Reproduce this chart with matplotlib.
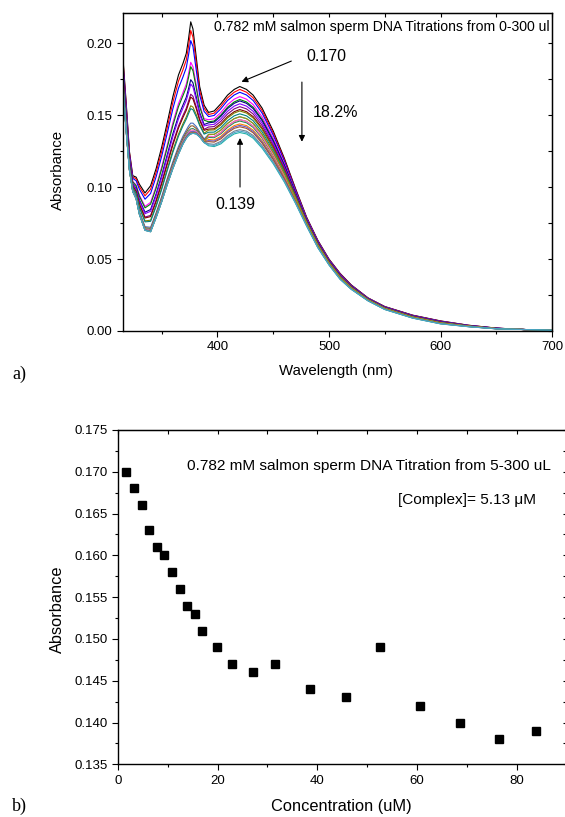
import numpy as np
import matplotlib
matplotlib.use('Agg')
import matplotlib.pyplot as plt
from matplotlib.ticker import MultipleLocator

plt.rcParams['font.family'] = ['Liberation Sans', 'DejaVu Sans']

# --- a) UV-vis spectra during titration ---
wavelength = [315, 318, 321, 324, 327, 330, 335, 340, 345, 350, 355, 360, 365, 369,
              372, 374, 376, 378, 381, 384, 388, 392, 397, 403, 409, 415, 420, 426,
              432, 440, 450, 460, 470, 480, 490, 500, 510, 520, 535, 550, 575, 600,
              625, 650, 675, 700]
# first spectrum (no DNA)
abs_first = [0.192, 0.160, 0.125, 0.108, 0.107, 0.102, 0.096, 0.101, 0.113, 0.128,
             0.145, 0.163, 0.178, 0.186, 0.193, 0.203, 0.215, 0.210, 0.190, 0.170,
             0.157, 0.152, 0.153, 0.158, 0.164, 0.168, 0.170, 0.168, 0.164, 0.155,
             0.139, 0.120, 0.099, 0.079, 0.063, 0.050, 0.040, 0.032, 0.023, 0.017,
             0.011, 0.007, 0.004, 0.002, 0.001, 0.0005]
# last spectrum (300 ul DNA)
abs_last = [0.172, 0.140, 0.112, 0.097, 0.092, 0.081, 0.070, 0.069, 0.079, 0.090,
            0.102, 0.113, 0.123, 0.130, 0.134, 0.136, 0.137, 0.1375, 0.137, 0.135,
            0.131, 0.1295, 0.129, 0.131, 0.135, 0.138, 0.139, 0.138, 0.135, 0.128,
            0.117, 0.104, 0.089, 0.073, 0.058, 0.046, 0.036, 0.029, 0.021, 0.015,
            0.009, 0.005, 0.003, 0.0015, 0.001, 0.0005]
# band maxima read for every spectrum (376 nm and 420 nm)
peak_376 = [0.215, 0.209, 0.202, 0.187, 0.184, 0.175, 0.172, 0.165, 0.163, 0.157, 0.155,
            0.145, 0.143, 0.141, 0.140, 0.139, 0.139, 0.138, 0.138, 0.1375, 0.1375, 0.1375]
peak_420 = [0.170, 0.168, 0.166, 0.163, 0.161, 0.160, 0.158, 0.156, 0.154, 0.153, 0.151,
            0.149, 0.147, 0.146, 0.147, 0.144, 0.143, 0.149, 0.142, 0.140, 0.138, 0.139]
curve_colors = ['#000000', '#ff0000', '#0000ff', '#ff00ff', '#008000', '#000080',
                '#8000ff', '#800080', '#800000', '#808000', '#008080', '#4a6fbf',
                '#8b5a2b', '#2e8b57', '#ff66cc', '#ff8000', '#6a5acd', '#9a9a00',
                '#a0522d', '#708090', '#20b2aa', '#4fa3c7']

# --- b) absorbance at 420 nm vs DNA concentration ---
conc = [1.66, 3.26, 4.8, 6.3, 7.8, 9.3, 10.9, 12.4, 13.9, 15.4, 16.9, 19.9, 22.8,
        27.2, 31.6, 38.6, 45.7, 52.5, 60.6, 68.5, 76.3, 83.7]
absorb = peak_420

fig = plt.figure(figsize=(5.65, 8.17), dpi=100)

wl = np.array(wavelength)
a_first = np.array(abs_first)
a_last = np.array(abs_last)
p376 = np.array(peak_376)
p420 = np.array(peak_420)
w_uv = (p376 - p376[-1]) / (p376[0] - p376[-1])
w_vis = (p420 - p420[-1]) / (p420[0] - p420[-1])

ax1 = fig.add_axes([0.2172, 0.5949, 0.7598, 0.3886])
for i in range(len(p420)):
    w = np.where(wl <= 390, w_uv[i], w_vis[i])
    ax1.plot(wl, a_last + w * (a_first - a_last), color=curve_colors[i], lw=0.8)

ax1.set_xlim(315, 700)
ax1.set_ylim(0, 0.2208)
ax1.xaxis.set_major_locator(MultipleLocator(100))
ax1.xaxis.set_minor_locator(MultipleLocator(50))
ax1.yaxis.set_major_locator(MultipleLocator(0.05))
ax1.yaxis.set_minor_locator(MultipleLocator(0.025))
ax1.yaxis.set_major_formatter(plt.FormatStrFormatter('%.2f'))

ax1.text(397, 0.2115, '0.782 mM salmon sperm DNA Titrations from 0-300 ul',
         ha='left', va='center', fontsize=10.1)
ax1.annotate('', xy=(421.5, 0.1733), xytext=(466.2, 0.1877),
             arrowprops=dict(arrowstyle='-|>', color='k', lw=0.8,
                             mutation_scale=9, shrinkA=0, shrinkB=0))
ax1.text(497.8, 0.1912, '0.170', ha='center', va='center', fontsize=11.5)
ax1.annotate('', xy=(475.7, 0.1316), xytext=(475.7, 0.1731),
             arrowprops=dict(arrowstyle='-|>', color='k', lw=0.8,
                             mutation_scale=9, shrinkA=0, shrinkB=0))
ax1.text(485.6, 0.1518, '18.2%', ha='left', va='center', fontsize=11.5)
ax1.annotate('', xy=(420.2, 0.1342), xytext=(420.2, 0.1001),
             arrowprops=dict(arrowstyle='-|>', color='k', lw=0.8,
                             mutation_scale=9, shrinkA=0, shrinkB=0))
ax1.text(416.1, 0.0883, '0.139', ha='center', va='center', fontsize=11.5)

ax2 = fig.add_axes([0.2083, 0.0645, 0.7952, 0.4092])
ax2.plot(conc, absorb, 's', color='black', ms=5.5)
ax2.set_xlim(0, 90)
ax2.set_ylim(0.135, 0.175)
ax2.xaxis.set_major_locator(MultipleLocator(20))
ax2.xaxis.set_minor_locator(MultipleLocator(10))
ax2.yaxis.set_major_locator(MultipleLocator(0.005))
ax2.yaxis.set_minor_locator(MultipleLocator(0.0025))
ax2.yaxis.set_major_formatter(plt.FormatStrFormatter('%.3f'))
ax2.text(13.8, 0.1707, '0.782 mM salmon sperm DNA Titration from 5-300 uL',
         ha='left', va='center', fontsize=11.1)
ax2.text(56.06, 0.16662, '[Complex]= 5.13 μM', ha='left', va='center', fontsize=11.1)

for ax in (ax1, ax2):
    for sp in ax.spines.values():
        sp.set_linewidth(1.0)
    ax.tick_params(which='both', direction='out', labelsize=9.5, width=0.8)
    ax.tick_params(which='major', length=4)
    ax.tick_params(which='minor', length=2.5)
    sec_x = ax.secondary_xaxis('top')
    sec_x.tick_params(which='both', direction='in', labeltop=False, width=0.8)
    sec_x.tick_params(which='major', length=3)
    sec_x.tick_params(which='minor', length=0)
    sec_x.xaxis.set_major_locator(ax.xaxis.get_minor_locator())
    sec_x.set_xticklabels([])
    sec_y = ax.secondary_yaxis('right')
    sec_y.tick_params(which='both', direction='in', labelright=False, width=0.8)
    sec_y.tick_params(which='major', length=3)
    sec_y.tick_params(which='minor', length=0)
    sec_y.yaxis.set_major_locator(ax.yaxis.get_minor_locator())
    sec_y.set_yticklabels([])

fig.text(58 / 565, 1 - 170 / 817, 'Absorbance', rotation=90, ha='center', va='center', fontsize=10.8)
fig.text(336 / 565, 1 - 371 / 817, 'Wavelength (nm)', ha='center', va='center', fontsize=10.8)
fig.text(57 / 565, 1 - 609 / 817, 'Absorbance', rotation=90, ha='center', va='center', fontsize=11.8)
fig.text(341.7 / 565, 1 - 806.7 / 817, 'Concentration (uM)', ha='center', va='center', fontsize=11.8)
fig.text(12 / 565, 1 - 374 / 817, 'a)', ha='left', va='center', fontsize=13,
         family='Liberation Serif')
fig.text(12 / 565, 1 - 806 / 817, 'b)', ha='left', va='center', fontsize=13,
         family='Liberation Serif')

fig.savefig('out.png', dpi=100)
